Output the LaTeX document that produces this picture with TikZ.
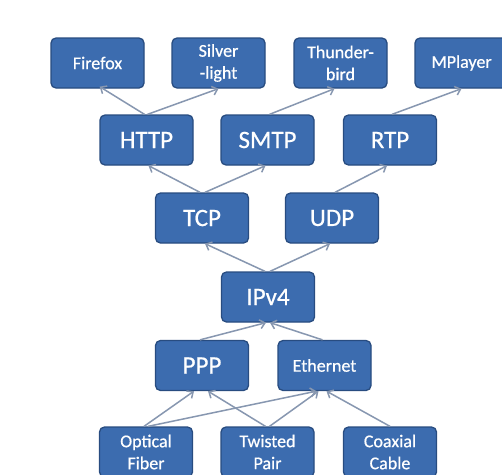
\documentclass[tikz,border=0pt]{standalone}
\usepackage{fontspec}
\setmainfont{Carlito}[FakeBold=0.6,BoldFont=Carlito]
\usetikzlibrary{arrows.meta}
\definecolor{boxfill}{HTML}{3C6CAF}
\definecolor{boxdraw}{HTML}{284C80}
\definecolor{arrowc}{HTML}{8797B0}
\begin{document}
\begin{tikzpicture}[x=1pt,y=-1pt,
 box/.style={draw=boxdraw, line width=1.3pt, fill=boxfill, rounded corners=5pt,
   minimum width=93pt, minimum height=50pt, text=white, align=center, inner sep=0pt,
   font=\fontsize{18}{22}\selectfont\bfseries},
 big/.style={font=\fontsize{25}{29}\selectfont\bfseries},
 conn/.style={draw=arrowc, line width=1.5pt, -{Straight Barb[length=5pt,width=9pt]}}]
\useasboundingbox[fill=white] (0,0) rectangle (502,474);
% top row
\node[box] (ff) at (97.5,63) {Firefox};
\node[box] (sl) at (218.5,63) {Silver\\-light};
\node[box] (tb) at (340.5,63) {Thunder-\\bird};
\node[box] (mp) at (461.5,63) {MPlayer};
% application protocols
\node[box,big] (http) at (146.5,140) {HTTP};
\node[box,big] (smtp) at (267.5,140) {SMTP};
\node[box,big] (rtp) at (390,140) {RTP};
% transport
\node[box,big] (tcp) at (202,218) {TCP};
\node[box,big] (udp) at (332,218) {UDP};
% network
\node[box,big] (ip) at (268,297) {IPv4};
% link
\node[box,big] (ppp) at (202,365.5) {PPP};
\node[box] (eth) at (324.5,365.5) {Ethernet};
% physical
\node[box] (of) at (146,452) {Optical\\Fiber};
\node[box] (tp) at (267.5,452) {Twisted\\Pair};
\node[box] (cc) at (390,452) {Coaxial\\Cable};
% connectors
\draw[conn] ([xshift=-2pt]http.north) -- ([xshift=-45pt,yshift=2pt]ff.south east);
\draw[conn] ([xshift=1pt]http.north) -- ([xshift=0pt]sl.south);
\draw[conn] ([xshift=2pt]smtp.north) -- ([xshift=-6pt]tb.south);
\draw[conn] ([xshift=2pt]rtp.north) -- ([xshift=0pt]mp.south);
\draw[conn] ([xshift=-2pt]tcp.north) -- ([xshift=2pt]http.south);
\draw[conn] ([xshift=3pt]tcp.north) -- ([xshift=-2pt]smtp.south);
\draw[conn] ([xshift=3pt]udp.north) -- ([xshift=-3pt]rtp.south);
\draw[conn] ([xshift=-3pt]ip.north) -- ([xshift=3pt]tcp.south);
\draw[conn] ([xshift=2pt]ip.north) -- ([xshift=-2pt]udp.south);
\draw[conn] ([xshift=-2pt]ppp.north) -- ([xshift=-2pt]ip.south);
\draw[conn] ([xshift=-2pt]eth.north) -- ([xshift=2pt]ip.south);
\draw[conn] ([xshift=-2pt]of.north) -- ([xshift=-8pt]ppp.south);
\draw[conn] ([xshift=2pt]of.north) -- ([xshift=-8pt]eth.south);
\draw[conn] ([xshift=-2pt]tp.north) -- ([xshift=6pt]ppp.south);
\draw[conn] ([xshift=2pt]tp.north) -- ([xshift=-6pt]eth.south);
\draw[conn] (cc.north) -- ([xshift=2pt]eth.south);
\end{tikzpicture}
\end{document}
